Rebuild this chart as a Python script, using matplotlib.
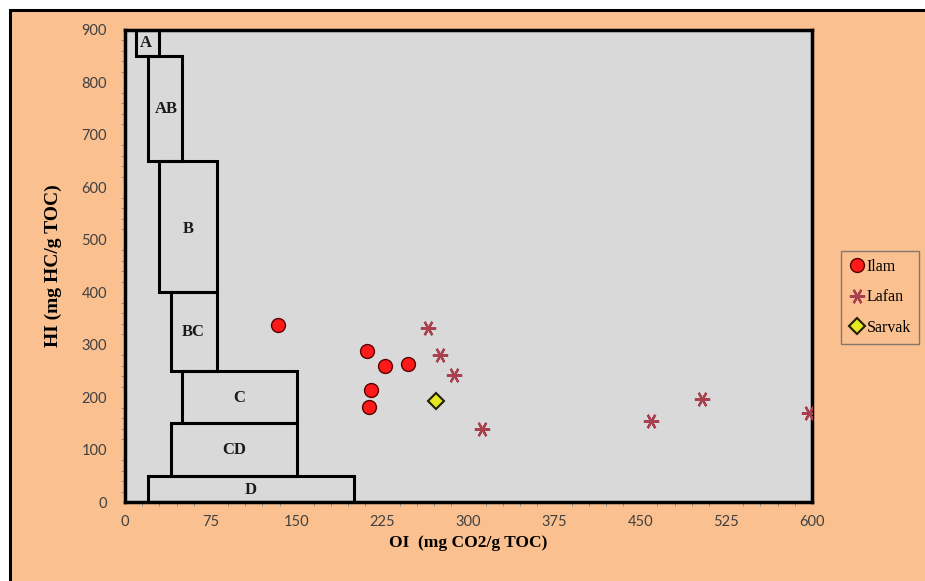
import numpy as np
import matplotlib.pyplot as plt
from matplotlib.patches import Rectangle

# %%
# data

# kerogen zones: name, OI min, OI max, HI min, HI max, label x, label y
zone_names = ["A", "AB", "B", "BC", "C", "CD", "D"]
zone_oi = [[10, 30], [20, 50], [30, 80], [40, 80], [50, 150], [40, 150], [20, 200]]
zone_hi = [[850, 900], [650, 850], [400, 650], [250, 400], [150, 250], [50, 150], [0, 50]]
zone_label_pos = [[18, 875], [36, 750], [55, 520], [60, 325], [100, 198], [95, 100], [110, 22]]

ilam_oi = [134, 211, 227, 247, 215, 213]
ilam_hi = [337, 288, 259, 264, 214, 181]

lafan_oi = [265, 275, 287, 312, 459, 504, 597]
lafan_hi = [331, 281, 242, 139, 154, 196, 169]

sarvak_oi = [272]
sarvak_hi = [192]

x_ticks = [0, 75, 150, 225, 300, 375, 450, 525, 600]
y_ticks = [0, 100, 200, 300, 400, 500, 600, 700, 800, 900]

# %%
# plot

peach = "#FAC090"
plot_grey = "#D9D9D9"
font_serif = ["Liberation Serif", "DejaVu Serif"]

fig = plt.figure(figsize=(9.25, 5.81), dpi=100)
fig.patch.set_facecolor("white")
bg = Rectangle((10/925, -0.05), 1.1, 1 - 10/581 + 0.05,
               transform=fig.transFigure, facecolor=peach,
               edgecolor="black", linewidth=2.2, zorder=-10)
fig.patches.append(bg)

ax = fig.add_axes([125/925, 79/581, 687/925, 472/581])
ax.set_facecolor(plot_grey)

for i in range(len(zone_names)):
    x0, x1 = zone_oi[i]
    y0, y1 = zone_hi[i]
    ax.add_patch(Rectangle((x0, y0), x1 - x0, y1 - y0, facecolor="none",
                           edgecolor="black", linewidth=2.2, zorder=2))
    ax.text(zone_label_pos[i][0], zone_label_pos[i][1], zone_names[i],
            ha="center", va="center", fontsize=12, fontweight="bold",
            family=font_serif, color="#1a1a1a", zorder=3)

ax.plot(ilam_oi, ilam_hi, "o", color="#FF1A1A", markeredgecolor="#5a0000",
        markersize=10, markeredgewidth=1, label="Ilam", zorder=4)
ax.plot(lafan_oi, lafan_hi, linestyle="none", marker=(6, 2, 90), color="#A8404E",
        markersize=11, markeredgewidth=1.6, label="Lafan", zorder=4)
ax.plot(sarvak_oi, sarvak_hi, "D", color="#E8E820", markeredgecolor="#202000",
        markersize=8, markeredgewidth=1.5, label="Sarvak", zorder=4)

ax.set_xlim(0, 600)
ax.set_ylim(0, 900)
ax.set_xticks(x_ticks)
ax.set_yticks(y_ticks)
ax.set_xticks(np.arange(0, 601, 15), minor=True)
ax.set_yticks(np.arange(0, 901, 20), minor=True)
ax.tick_params(axis="both", which="major", labelsize=10.5, labelcolor="#404040",
               length=0)
ax.tick_params(axis="x", which="major", pad=9)
ax.tick_params(axis="y", which="major", pad=13)
for lbl in ax.get_xticklabels() + ax.get_yticklabels():
    lbl.set_family(["Lato", "DejaVu Sans"])
ax.tick_params(axis="both", which="minor", length=3, color="#888888")
for spine in ax.spines.values():
    spine.set_linewidth(2.5)
    spine.set_color("black")

ax.set_xlabel("OI  (mg CO2/g TOC)", fontsize=12.5, fontweight="bold",
              family=font_serif, labelpad=5)
ax.set_ylabel("HI (mg HC/g TOC)", fontsize=14, fontweight="bold",
              family=font_serif, labelpad=14)

leg = ax.legend(loc="center left", bbox_to_anchor=(1.042, 0.434), frameon=True,
                fancybox=False, handletextpad=0.1, handlelength=1.0,
                borderpad=0.5, labelspacing=0.9, borderaxespad=0,
                prop={"family": font_serif, "size": 11.5})
leg.get_frame().set_facecolor(peach)
leg.get_frame().set_edgecolor("#666666")
leg.get_frame().set_linewidth(1.0)

fig.savefig("out.png", dpi=100, facecolor=fig.get_facecolor())
